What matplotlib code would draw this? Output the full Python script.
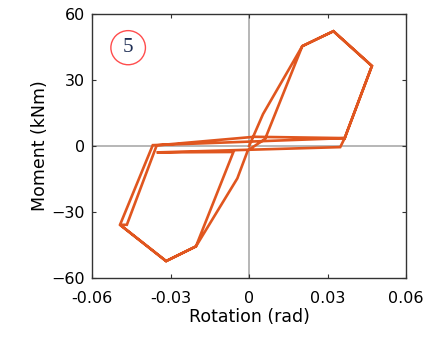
import matplotlib
matplotlib.use("Agg")
import matplotlib.pyplot as plt
from matplotlib.patches import Ellipse

rotation = [0, .0053, .0203, .0322, .0469, .0365, -.0368, -.0493, -.0317, -.0203,
            -.0045, -.0005, .0061, .0203, .0322, .0469, .0365, .0020, -.0353,
            -.0467, -.0493, -.0317, -.0203, -.0060, -.0353, .0348, .0365]
moment = [0, 14.5, 45.4, 52.2, 36.4, 3.6, 0.4, -35.8, -52.3, -45.6,
          -14.7, -2.0, 3.2, 45.4, 52.2, 36.4, 3.6, 4.2, 0.3,
          -35.8, -35.8, -52.3, -45.6, -2.7, -2.9, -0.5, 3.6]

xticks = [-0.06, -0.03, 0, 0.03, 0.06]
xticklabels = ["-0.06", "-0.03", "0", "0.03", "0.06"]
yticks = [-60, -30, 0, 30, 60]

fig = plt.figure(figsize=(4.31, 3.42), dpi=100)
ax = fig.add_axes([0.2135, 0.187, 0.729, 0.772])

ax.axhline(0, color="#aaaaaa", lw=1.2, zorder=1)
ax.axvline(0, color="#aaaaaa", lw=1.2, zorder=1)
ax.plot(rotation, moment, color="#e0561f", lw=1.9, solid_joinstyle="miter", zorder=2)

ax.set_xlim(-0.06, 0.06)
ax.set_ylim(-60, 60)
ax.set_xticks(xticks)
ax.set_xticklabels(xticklabels)
ax.set_yticks(yticks)
ax.tick_params(direction="in", length=3, labelsize=11.5, top=True, right=True,
               color="#333333")
ax.tick_params(axis="x", pad=9)
ax.tick_params(axis="y", pad=5)
for s in ax.spines.values():
    s.set_color("#333333")
    s.set_linewidth(1.0)

ax.set_xlabel("Rotation (rad)", fontsize=12.5, labelpad=2)
ax.set_ylabel("Moment (kNm)", fontsize=12.5, labelpad=2)

# numbered circle in upper left
ax.add_patch(Ellipse((-0.0462, 44.7), 0.0132, 15.5, transform=ax.transData,
                     fill=False, edgecolor="#ff4d4d", lw=1.0))
ax.text(-0.0462, 44.7, "5", ha="center", va="center", fontsize=15,
        family="Liberation Serif", color="#1f2f55")

fig.savefig("out.png", dpi=100)
